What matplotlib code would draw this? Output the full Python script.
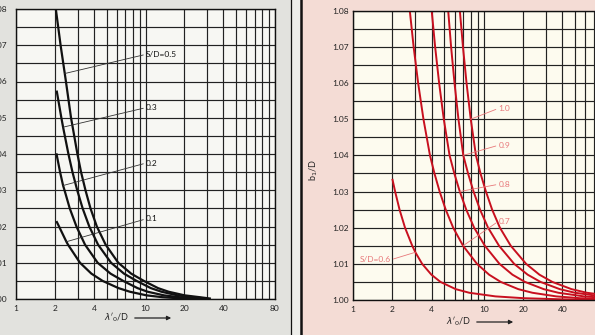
import matplotlib
matplotlib.use("Agg")
import matplotlib.pyplot as plt
from matplotlib.patches import Rectangle, FancyArrowPatch
from matplotlib.lines import Line2D

plt.rcParams['font.family'] = ['Lato', 'DejaVu Sans']
plt.rcParams['mathtext.fontset'] = 'dejavusans'

# left chart: b1/D against lambda'0/D for S/D = 0.1 ... 0.5
lam_01 = [2.05, 2.15, 2.45, 2.52, 3.12, 3.82, 4.66, 6.19, 7.58, 10.2, 13.5, 18, 25]
b_01 = [1.0215, 1.020, 1.0158, 1.015, 1.010, 1.007, 1.005, 1.003, 1.002, 1.001,
        1.0005, 1.0002, 1.0]
lam_02 = [2.05, 2.19, 2.31, 2.37, 2.60, 2.93, 3.41, 4.27, 5.37, 6.72, 8.68, 10.4,
          13.9, 18.2, 24, 30]
b_02 = [1.0402, 1.035, 1.0313, 1.030, 1.025, 1.020, 1.015, 1.010, 1.007, 1.005,
        1.003, 1.002, 1.001, 1.0005, 1.0002, 1.0]
lam_03 = [2.06, 2.24, 2.31, 2.54, 2.73, 2.97, 3.27, 3.68, 4.30, 5.42, 6.82, 8.53,
          11.0, 13.3, 17.7, 23.1, 30]
b_03 = [1.0575, 1.050, 1.0474, 1.040, 1.035, 1.030, 1.025, 1.020, 1.015, 1.010,
        1.007, 1.005, 1.003, 1.002, 1.001, 1.0005, 1.0001]
lam_05 = [2.03, 2.21, 2.38, 2.43, 2.66, 2.98, 3.18, 3.44, 3.76, 4.21, 4.92, 6.16,
          7.75, 9.70, 12.5, 15.1, 20.1, 26.2, 32]
b_05 = [1.080, 1.070, 1.0622, 1.060, 1.050, 1.040, 1.035, 1.030, 1.025, 1.020,
        1.015, 1.010, 1.007, 1.005, 1.003, 1.002, 1.001, 1.0005, 1.0001]

# right chart: S/D = 0.6 ... 1.0
lam_06 = [2.0, 2.10, 2.27, 2.50, 2.84, 3.0, 3.38, 3.98, 4.67, 6.11, 7.76, 12.3,
          20.2, 38.9, 100]
b_06 = [1.0335, 1.030, 1.025, 1.020, 1.015, 1.0132, 1.010, 1.007, 1.005, 1.003,
        1.002, 1.001, 1.0005, 1.0002, 1.0]
lam_07 = [2.72, 2.91, 3.15, 3.46, 3.88, 4.20, 4.60, 5.12, 5.84, 6.95, 8.88, 11.0,
          13.5, 18.4, 23.6, 35.9, 54.6, 100]
b_07 = [1.080, 1.070, 1.060, 1.050, 1.040, 1.035, 1.030, 1.025, 1.020, 1.015,
        1.010, 1.007, 1.005, 1.003, 1.002, 1.001, 1.0005, 1.0002]
lam_08 = [4.0, 4.25, 4.56, 4.95, 5.48, 5.96, 6.56, 7.35, 8.45, 10.2, 13.2, 16.6,
          20.7, 28.8, 37.3, 58.4, 100]
b_08 = [1.080, 1.070, 1.060, 1.050, 1.040, 1.035, 1.030, 1.025, 1.020, 1.015,
        1.010, 1.007, 1.005, 1.003, 1.002, 1.001, 1.0004]
lam_09 = [5.35, 5.63, 5.98, 6.41, 6.98, 7.59, 8.36, 9.37, 10.8, 13.1, 17.1, 21.7,
          27.2, 38.2, 50.0, 79.4, 100]
b_09 = [1.080, 1.070, 1.060, 1.050, 1.040, 1.035, 1.030, 1.025, 1.020, 1.015,
        1.010, 1.007, 1.005, 1.003, 1.002, 1.001, 1.0007]
lam_10 = [6.57, 6.94, 7.39, 7.96, 8.72, 9.45, 10.4, 11.6, 13.3, 16.1, 21.1, 26.7,
          33.5, 47.0, 61.6, 100]
b_10 = [1.080, 1.070, 1.060, 1.050, 1.040, 1.035, 1.030, 1.025, 1.020, 1.015,
        1.010, 1.007, 1.005, 1.003, 1.002, 1.001]

xticks = [1, 2, 4, 10, 20, 40, 100]
xticklabels = ['1', '2', '4', '10', '20', '40', '80']
xminor = [3, 5, 6, 7, 8, 9, 30, 50, 60, 70, 80, 90]
yticks = [1.00, 1.01, 1.02, 1.03, 1.04, 1.05, 1.06, 1.07, 1.08]
yminor = [1.005, 1.015, 1.025, 1.035, 1.045, 1.055, 1.065, 1.075]

W, H = 595, 335
fig = plt.figure(figsize=(W / 100, H / 100), dpi=100)
fig.patch.set_facecolor('#e2e2de')

# page edges between the two charts
fig.add_artist(Rectangle((292 / W, 0), 9 / W, 1, transform=fig.transFigure,
                         color='#ededea', zorder=0))
fig.add_artist(Rectangle((301 / W, 0), 1 - 301 / W, 1, transform=fig.transFigure,
                         color='#f4dcd5', zorder=0))
fig.add_artist(Line2D([291 / W, 291 / W], [0, 1], transform=fig.transFigure,
                      color='#111111', lw=0.9))
fig.add_artist(Line2D([301 / W, 301 / W], [0, 1], transform=fig.transFigure,
                      color='#111111', lw=1.8))


def setup(ax, face, ypad):
    ax.set_facecolor(face)
    ax.set_xscale('log')
    ax.set_xlim(1, 100)
    ax.set_ylim(1.0, 1.08)
    ax.set_xticks(xticks)
    ax.set_xticklabels(xticklabels)
    ax.set_xticks(xminor, minor=True)
    ax.set_xticklabels([], minor=True)
    ax.set_yticks(yticks)
    ax.set_yticklabels(['%.2f' % v for v in yticks])
    ax.set_yticks(yminor, minor=True)
    ax.grid(which='both', color='#222222', lw=0.85)
    ax.tick_params(which='both', length=0, labelsize=6, colors='#222222')
    ax.tick_params(axis='x', pad=4)
    ax.tick_params(axis='y', pad=ypad)
    for s in ax.spines.values():
        s.set_color('#111111')
        s.set_linewidth(1.0)


# left chart
axl = fig.add_axes([16 / W, 36 / H, 259 / W, 290 / H])
setup(axl, '#f7f7f3', 6.5)
for lam, b in [(lam_01, b_01), (lam_02, b_02), (lam_03, b_03), (lam_05, b_05)]:
    axl.plot(lam, b, color='#111111', lw=1.6, solid_capstyle='butt')

left_labels = [('S/D=0.5', 1.0675, lam_05[2], b_05[2]),
               ('0.3', 1.0528, lam_03[2], b_03[2]),
               ('0.2', 1.0375, lam_02[2], b_02[2]),
               ('0.1', 1.0221, lam_01[2], b_01[2])]
for txt, ty, px, py in left_labels:
    axl.annotate(txt, xy=(px, py), xytext=(10.1, ty), fontsize=6, ha='left',
                 va='center', color='#111111',
                 arrowprops=dict(arrowstyle='-', lw=0.6, color='#333333',
                                 shrinkA=0, shrinkB=0, relpos=(0, 0.5)))

fig.text(117 / W, 1 - 318 / H, r"$\lambda'_0$/D", fontsize=6.5, ha='center',
         va='center', color='#222222')
fig.add_artist(FancyArrowPatch((132 / W, 1 - 318 / H), (174 / W, 1 - 318 / H),
                               transform=fig.transFigure, arrowstyle='-|>',
                               mutation_scale=6, lw=0.9, color='#222222'))

# right chart (runs past the right edge of the page)
axr = fig.add_axes([353 / W, 35 / H, 261.4 / W, 289.3 / H])
setup(axr, '#fdfbef', 3)
for lam, b in [(lam_06, b_06), (lam_07, b_07), (lam_08, b_08), (lam_09, b_09),
               (lam_10, b_10)]:
    axr.plot(lam, b, color='#c8101f', lw=1.4, solid_capstyle='butt')

pink = '#e8787a'
right_labels = [('1.0', 1.053, lam_10[3], b_10[3]),
                ('0.9', 1.0428, lam_09[4], b_09[4]),
                ('0.8', 1.032, lam_08[6], b_08[6]),
                ('0.7', 1.0218, lam_07[9], b_07[9])]
for txt, ty, px, py in right_labels:
    axr.annotate(txt, xy=(px, py), xytext=(13.0, ty), fontsize=6, ha='left',
                 va='center', color=pink,
                 arrowprops=dict(arrowstyle='-', lw=0.6, color=pink,
                                 shrinkA=0, shrinkB=0, relpos=(0, 0.5)))
axr.annotate('S/D=0.6', xy=(lam_06[5], b_06[5]), xytext=(1.12, 1.0111), fontsize=6,
             ha='left', va='center', color=pink,
             arrowprops=dict(arrowstyle='-', lw=0.6, color=pink,
                             shrinkA=0, shrinkB=0, relpos=(1, 0.5)))

axr.set_ylabel(r"b$_1$/D", fontsize=6.5, color='#222222')
axr.yaxis.set_label_coords(-0.127, 0.45)

fig.text(459 / W, 1 - 322 / H, r"$\lambda'_0$/D", fontsize=6.5, ha='center',
         va='center', color='#222222')
fig.add_artist(FancyArrowPatch((474 / W, 1 - 322 / H), (516 / W, 1 - 322 / H),
                               transform=fig.transFigure, arrowstyle='-|>',
                               mutation_scale=6, lw=0.9, color='#222222'))

fig.savefig('out.png', dpi=100)
